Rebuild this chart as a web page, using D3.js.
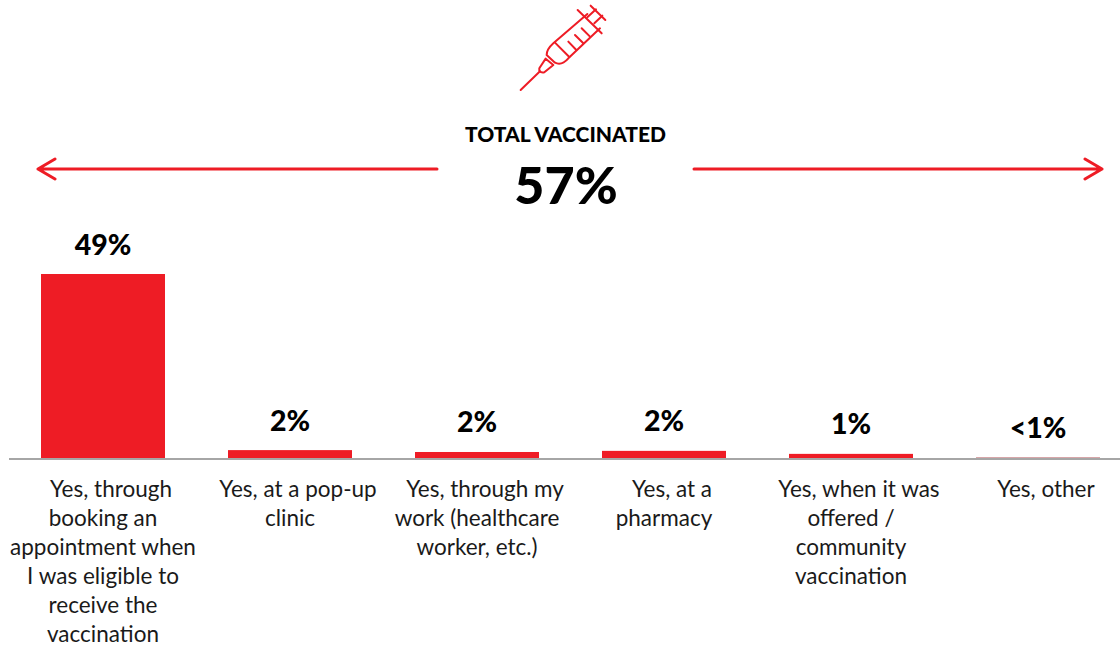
<!DOCTYPE html>
<html><head><meta charset="utf-8">
<script src="https://cdn.jsdelivr.net/npm/d3@7"></script>
<style>html,body{margin:0;padding:0;background:#fff}svg{display:block}text{font-family:Lato,"Open Sans",sans-serif;fill:#000}.cat{fill:#1a1a1a}</style>
</head><body><svg id="c" width="1120" height="646"></svg>
<script>
const categories = [
  ["Yes, through","booking an","appointment when","I was eligible to","receive the","vaccination"],
  ["Yes, at a pop-up","clinic"],
  ["Yes, through my","work (healthcare","worker, etc.)"],
  ["Yes, at a","pharmacy"],
  ["Yes, when it was","offered /","community","vaccination"],
  ["Yes, other"]
];
const values = [49, 2.1, 1.6, 1.9, 1.1, 0.2];
const valueLabels = ["49%","2%","2%","2%","1%","<1%"];
const red = "#ee1c25";
const svg = d3.select("#c");
const x = d3.scaleBand().domain(d3.range(values.length)).range([9.5,1131.5]).paddingInner(0.337).paddingOuter(0.1685);
const y = d3.scaleLinear().domain([0,49]).range([458,274]);

svg.selectAll("rect.bar").data(values).join("rect").attr("class","bar")
  .attr("x",(d,i)=>x(i)).attr("width",x.bandwidth())
  .attr("y",d=>y(d)).attr("height",d=>y(0)-y(d)).attr("fill",(d,i)=>i===5?"#c9898c":red);

svg.append("line").attr("x1",9).attr("x2",1120).attr("y1",459).attr("y2",459).attr("stroke","#a6a6a6").attr("stroke-width",2);

svg.selectAll("text.val").data(valueLabels).join("text").attr("class","val")
  .attr("x",(d,i)=>x(i)+x.bandwidth()/2).attr("y",(d,i)=>y(values[i])-19.5)
  .attr("text-anchor","middle").attr("font-size",28.5).attr("font-weight",900).text(d=>d);

const lab = svg.selectAll("text.cat").data(categories).join("text").attr("class","cat")
  .attr("text-anchor","middle").attr("font-size",22.5);
lab.each(function(lines,i){
  d3.select(this).selectAll("tspan").data(lines).join("tspan")
    .attr("x",(d,j)=>x(i)+x.bandwidth()/2+(j===0?8:0)).attr("y",(d,j)=>497+j*28.9).text(d=>d);
});

svg.append("text").attr("x",565.5).attr("y",142).attr("text-anchor","middle").attr("font-size",21).attr("font-weight",900).text("TOTAL VACCINATED");
svg.append("text").attr("x",566).attr("y",204).attr("text-anchor","middle").attr("font-size",52).attr("font-weight",900).text("57%");

const arrow = svg.append("g").attr("fill","none").attr("stroke",red).attr("stroke-width",3).attr("stroke-linecap","round").attr("stroke-linejoin","round");
arrow.append("path").attr("d","M437 169H38M55 159L38 169L55 179");
arrow.append("path").attr("d","M694 169H1102M1085 159L1102 169L1085 179");

const ic = svg.append("g").attr("transform","translate(500,0) scale(0.3333)").attr("fill","none").attr("stroke",red).attr("stroke-width",6).attr("stroke-linecap","round").attr("stroke-linejoin","round");
["M62 270L120 214",
 "M118 205L137 176L160 195L133 217Q124 220 118 212Z",
 "M262 42L160 130Q140 148 140 165L165 188Q185 198 205 175L300 85",
 "M165 128L208 171",
 "M233 30L305 100",
 "M262 52L288 28M283 70L307 47",
 "M272 17L316 60",
 "M205 125L229 150M225 105L250 130M245 85L270 110"
].forEach(d=>ic.append("path").attr("d",d));
</script></body></html>
